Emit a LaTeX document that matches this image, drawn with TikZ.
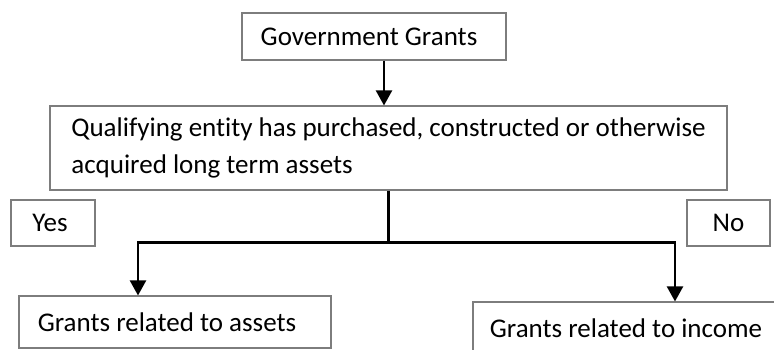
\documentclass[tikz,border=0pt]{standalone}
\usepackage{fontspec}
\setmainfont{Carlito}[Ligatures=NoCommon]
\usepackage{tikz}
\usetikzlibrary{arrows.meta}
\definecolor{boxgray}{RGB}{125,125,125}

\begin{document}
\begin{tikzpicture}[>={Triangle[width=16pt,length=15pt]},line width=2.2pt,font=\fontsize{27}{37}\selectfont]
 \tikzstyle{every node}=[draw=boxgray,line width=1.1pt,inner sep=0pt,align=center]
 \tikzstyle{answer}=[minimum width=84pt,minimum height=46pt]
 \tikzstyle{result}=[minimum width=312pt,minimum height=52pt]

 \useasboundingbox (0,0) rectangle (774pt,-350pt);

   \node[minimum width=264pt,minimum height=47pt] (gov) at (374pt,-36.5pt) {Government Grants\hspace{10pt}};
   \node[align=left,minimum width=677pt,minimum height=84pt,node distance=111.5pt,xshift=14.5pt] (qual) [below of = gov]
     {Qualifying entity has purchased, constructed or otherwise\\acquired long term assets};
   \node[answer,node distance=75pt,xshift=-335.5pt] (yes) [below of = qual] {Yes\hspace{6pt}};
   \node[answer,node distance=75pt,xshift=340pt,minimum width=83pt] (no) [below of = qual] {No};
   \node[result,node distance=99pt,xshift=122pt] (assets) [below of = yes] {Grants related to assets\hspace{16pt}};
   \node[result,node distance=105pt,xshift=-102.5pt,minimum width=306pt] (income) [below of = no] {Grants related to income};

   \coordinate (split) at ([yshift=-52pt]qual.south);

  \draw[->] ([xshift=10pt]gov.south) -- ([xshift=10pt]gov.south |- qual.north);
  \draw (qual.south) -- (split);
  \draw[->] (split) -| ([xshift=-37pt]assets.north);
  \draw[->] (split) -| ([xshift=49pt]income.north);

\end{tikzpicture}
\end{document}
